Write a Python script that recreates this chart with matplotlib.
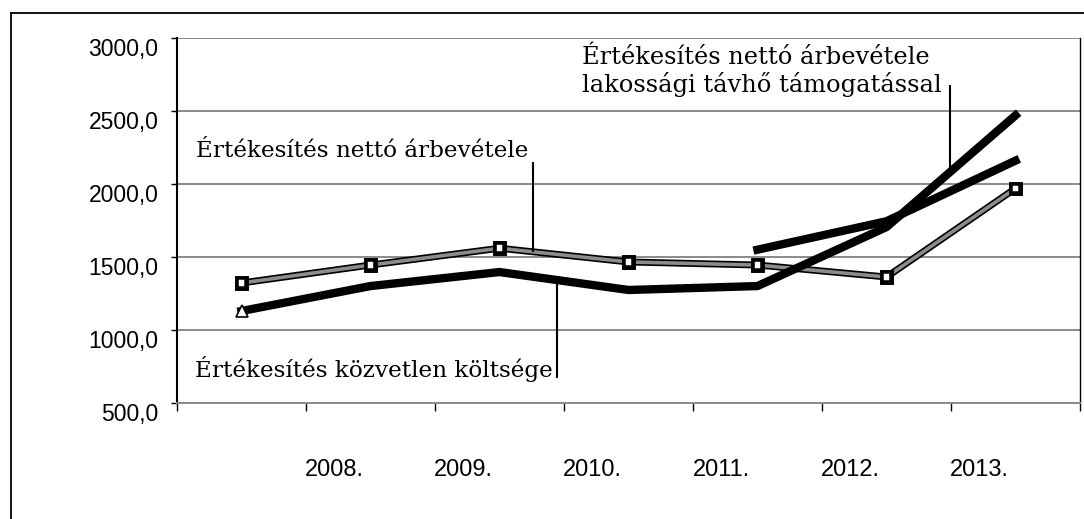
import numpy as np
import matplotlib
matplotlib.use("Agg")
import matplotlib.pyplot as plt
import matplotlib.patheffects as pe
import matplotlib.transforms as mtransforms
from matplotlib.lines import Line2D

# ------------------------------ data ---------------------------------------
years = ['2008.', '2009.', '2010.', '2011.', '2012.', '2013.']
arbevetel = [1322, 1445, 1560, 1466, 1445, 1363, 1970]          # squares
koltseg = [1130, 1301, 1397, 1274, 1301, 1705, 2470]            # triangles
tamogatassal = [np.nan, np.nan, np.nan, np.nan, 1550, 1745, 2160]
y_ticks = [500, 1000, 1500, 2000, 2500, 3000]
y_labels = ['500,0', '1000,0', '1500,0', '2000,0', '2500,0', '3000,0']
# ---------------------------------------------------------------------------

x = np.arange(len(arbevetel))

fig = plt.figure(figsize=(10.84, 5.19), dpi=100)
ax = fig.add_axes([0.1633, 0.2235, 0.8330, 0.7033])

# outer frame of the scanned chart
for xs, ys in [([0.0101, 0.0101], [-0.1, 0.975]), ([0.0101, 1.1], [0.975, 0.975])]:
    fig.add_artist(Line2D(xs, ys, transform=fig.transFigure, color='black', lw=1.3))

ax.set_xlim(-0.5, len(x) - 0.5)
ax.set_ylim(500, 3000)

ax.set_yticks(y_ticks)
ax.set_yticklabels(y_labels, fontsize=16.5, family='Liberation Sans')
shift = mtransforms.ScaledTranslation(0, -3 / 72, fig.dpi_scale_trans)
for lab in ax.get_yticklabels():
    lab.set_va('top')
    lab.set_transform(lab.get_transform() + shift)
ax.yaxis.grid(True, color='#8a8a8a', lw=1.4)
ax.set_axisbelow(True)

# category borders carry the tick marks, year labels sit between them
ax.set_xticks(np.arange(-0.5, len(x)))
ax.set_xticklabels([])
ax.set_xticks(np.arange(len(years)) + 0.72, minor=True)
ax.set_xticklabels(years, minor=True, fontsize=17, family='Liberation Sans')
ax.tick_params(axis='x', which='major', direction='out', length=6, width=1)
ax.tick_params(axis='x', which='minor', length=0, pad=40)
ax.tick_params(axis='y', direction='out', length=4.5, width=1, pad=9)

ax.spines['top'].set_visible(False)
ax.spines['left'].set_linewidth(1.5)
ax.spines['right'].set_linewidth(1.0)
ax.spines['bottom'].set_color('#8a8a8a')
ax.spines['bottom'].set_linewidth(1.4)

# series
ax.plot(x, arbevetel, color='#8c8c8c', lw=2.6, marker='s', ms=5.5,
        mfc='white', mec='black', mew=1.1, zorder=3,
        path_effects=[pe.Stroke(linewidth=5.0, foreground='black'), pe.Normal()])
ax.plot(x, koltseg, color='black', lw=6, zorder=4)
ax.plot(x[:1], koltseg[:1], ls='none', marker='^', ms=8,
        mfc='white', mec='black', mew=1.2, zorder=5)
ax.plot(x, tamogatassal, color='black', lw=6, zorder=4)

# labels with leader lines
serif = 'DejaVu Serif'
lx1 = 2.26
ax.text(2.22, 2185, 'Értékesítés nettó árbevétele', ha='right', va='baseline',
        fontsize=16.7, family=serif)
ax.vlines(lx1, np.interp(lx1, x, arbevetel), 2150, color='black', lw=1.5, zorder=5)

lx2 = 2.446
ax.text(2.41, 680, 'Értékesítés közvetlen költsége', ha='right', va='baseline',
        fontsize=16.7, family=serif)
ax.vlines(lx2, 670, np.interp(lx2, x, koltseg), color='black', lw=1.5, zorder=5)

lx3 = 5.49
ax.text(2.64, 2822, 'Értékesítés nettó árbevétele', ha='left', va='baseline',
        fontsize=17.4, family=serif)
ax.text(2.64, 2630, 'lakossági távhő támogatással', ha='left', va='baseline',
        fontsize=17.4, family=serif)
ax.vlines(lx3, np.interp(lx3, x, koltseg), 2680, color='black', lw=1.5, zorder=5)

fig.savefig('out.png', dpi=100)
